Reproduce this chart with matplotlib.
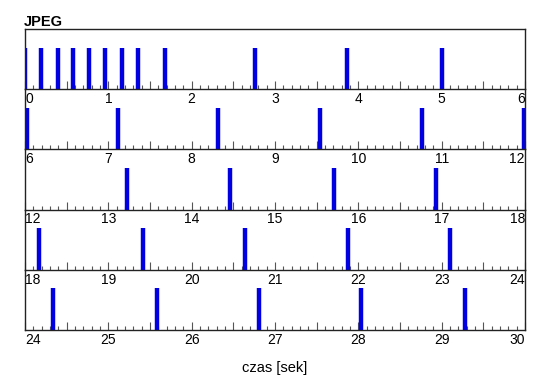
import numpy as np
import matplotlib
matplotlib.use('Agg')
import matplotlib.pyplot as plt
from matplotlib.ticker import MultipleLocator

# czasy zdarzeń (sekundy)
czasy = [0.0, 0.19, 0.39, 0.58, 0.77, 0.96, 1.16, 1.36, 1.68, 2.76, 3.86, 5.0,
         6.02, 7.12, 8.32, 9.54, 10.77, 11.99,
         13.22, 14.46, 15.71, 16.93,
         18.17, 19.42, 20.64, 21.87, 23.1,
         24.34, 25.58, 26.81, 28.03, 29.28]
starty = [0, 6, 12, 18, 24]
okno = 6
tytul = "JPEG"
opis_x = "czas [sek]"

plt.rcParams['font.family'] = ['Liberation Sans', 'DejaVu Sans']
fig = plt.figure(figsize=(5.5, 3.89), dpi=100)

left, right = 25 / 550, 525 / 550
top = 1 - 29 / 389
h = 60.2 / 389
niebieski = '#0000e0'

for i, s in enumerate(starty):
    ax = fig.add_axes([left, top - (i + 1) * h, right - left, h])
    ax.patch.set_visible(False)
    ax.set_xlim(s, s + okno)
    ax.set_ylim(0, 1)
    t = np.array([c for c in czasy if s <= c < s + okno])
    ax.vlines(t, 0, 0.69, color=niebieski, lw=3.2)
    ax.set_yticks([])
    ax.xaxis.set_major_locator(MultipleLocator(0.5))
    ax.xaxis.set_minor_locator(MultipleLocator(0.1))
    ticks = np.arange(s, s + okno + 0.01, 0.5)
    ax.set_xticks(ticks)
    ax.set_xticklabels([str(int(v)) if v == int(v) else '' for v in ticks])
    ax.tick_params(axis='x', which='major', direction='in', length=6,
                   width=0.8, color='#555555', labelsize=10, pad=2)
    ax.tick_params(axis='x', which='minor', direction='in', length=3,
                   width=0.8, color='#555555')
    labs = ax.get_xticklabels()
    labs[0].set_horizontalalignment('left')
    labs[-1].set_horizontalalignment('right')
    for sp in ax.spines.values():
        sp.set_linewidth(1.0)
        sp.set_color('#222222')
    if i > 0:
        ax.spines['top'].set_visible(False)
    if i == 0:
        ax.set_title(tytul, loc='left', fontweight='bold', fontsize=10.5, pad=2, x=-0.002)
    if i == len(starty) - 1:
        ax.set_xlabel(opis_x, fontsize=10.5, labelpad=10)

fig.savefig('out.png', dpi=100)
